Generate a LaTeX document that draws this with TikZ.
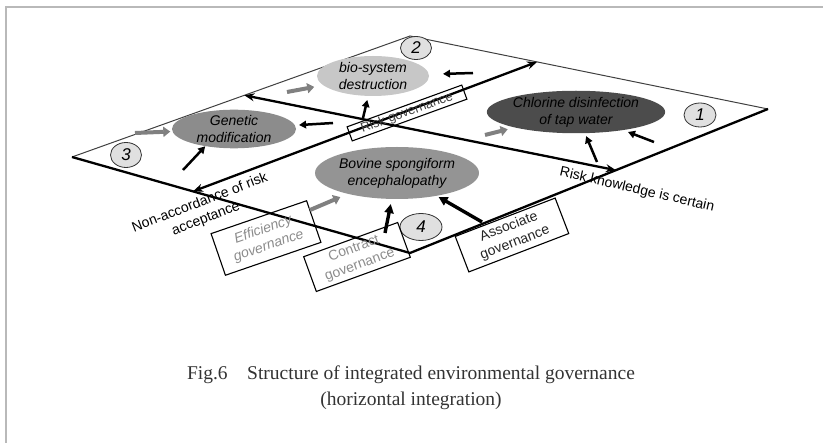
\documentclass[tikz,border=0pt]{standalone}
\usepackage{fontspec}
\setmainfont{Liberation Serif}
\setsansfont{Liberation Sans}
\usetikzlibrary{arrows.meta,calc,shapes.geometric}
\begin{document}
\begin{tikzpicture}[x=1pt,y=-1pt,
  thinedge/.style={line width=1pt, draw=black!75},
  thickedge/.style={line width=2.3pt, draw=black},
  axisline/.style={line width=2.3pt, {Stealth[length=10pt,width=8pt]}-{Stealth[length=10pt,width=8pt]}},
  blkarrow/.style={line width=2.5pt, -{Triangle[length=7pt,width=7.5pt]}},
  bigblk/.style={line width=3.4pt, -{Triangle[length=9pt,width=9pt]}},
  gryarrow/.style={line width=4pt, draw=black!50, -{Triangle[length=7pt,width=10pt]}},
  oval/.style={ellipse, inner sep=0pt, align=center, text=black,
    font=\sffamily\itshape\fontsize{14}{17}\selectfont},
  numcirc/.style={ellipse, draw=black!80, line width=0.8pt, fill=black!12, inner sep=0pt,
    font=\sffamily\itshape\fontsize{17}{17}\selectfont},
  govbox/.style={draw, line width=1.1pt, align=center, inner sep=0pt,
    font=\sffamily\fontsize{14}{17}\selectfont},
  lbl/.style={align=center, inner sep=0pt, font=\sffamily\fontsize{14}{17}\selectfont},
  capt/.style={inner sep=0pt, text=black!80, font=\fontsize{19.5}{22}\selectfont}
]
\useasboundingbox (0,0) rectangle (823,443);
% frame of the scanned page
\draw[gray!55, line width=1.5pt] (6,443) -- (6,7) -- (823,7);

% parallelogram
\coordinate (L) at (72,157);
\coordinate (T) at (410,36);
\coordinate (R) at (768,109);
\coordinate (B) at (410,253);
\draw[thinedge] (L) -- (T) -- (R);
\draw[thickedge, line join=round] (R) -- (B) -- (L);

% axes
\coordinate (a1) at ($(L)!0.358!(B)$);
\coordinate (a2) at ($(T)!0.355!(R)$);
\coordinate (b1) at ($(L)!0.51!(T)$);
\coordinate (b2) at ($(B)!0.575!(R)$);
\draw[axisline] (a1) -- (a2);
\draw[axisline] (b1) -- (b2);

% ellipses
\node[oval, fill=black!22, minimum width=112, minimum height=40] (bio) at (373,76) {bio-system\\destruction};
\node[oval, fill=black!45, minimum width=124, minimum height=38] (gen) at (234,129) {Genetic\\modification};
\node[oval, fill=black!70, minimum width=134, minimum height=41] (chl) at (576,112) {Chlorine disinfection\\of tap water};
\node[oval, fill=black!42, minimum width=142, minimum height=52] (bse) at (397,173) {Bovine spongiform\\encephalopathy};

% circled numbers
\node[numcirc, minimum width=32, minimum height=24] (n1) at (700,115) {1};
\node[numcirc, minimum width=31, minimum height=23] (n2) at (416,48) {2};
\node[numcirc, minimum width=31, minimum height=25] (n3) at (126,155) {3};
\node[numcirc, minimum width=42, minimum height=27] (n4) at (421,227) {4};

% governance boxes
\node[govbox, rotate=20, minimum width=122, minimum height=15, text=black!75,
  font=\sffamily\fontsize{13}{15}\selectfont] (riskgov) at (407,113) {Risk governance};
\node[govbox, rotate=19, minimum width=101, minimum height=44, text=black!45,
  font=\sffamily\itshape\fontsize{14}{17}\selectfont] (eff) at (266,238) {Efficiency\\governance};
\node[govbox, rotate=20, minimum width=100, minimum height=37, text=black!45] (con) at (357,257) {Contract\\governance};
\node[govbox, rotate=21, minimum width=107, minimum height=38, text=black!85] (ass) at (512,235) {Associate\\governance};

% axis labels
\node[lbl, rotate=21] (nonacc) at (203,211) {Non-accordance of risk\\acceptance};
\node[lbl, rotate=-13] (riskknow) at (637,190) {Risk knowledge is certain};

% arrow tails
\coordinate (t1) at (287,92);
\coordinate (t2) at (135,133);
\coordinate (t3) at (485,135);
\coordinate (t4) at (310,210);
\coordinate (t5) at (473,73);
\coordinate (t6) at (333,123);
\coordinate (t7) at (363,118);
\coordinate (t8) at (183,170);
\coordinate (t9) at (597,162);
\coordinate (t10) at (654,142);
\coordinate (t11) at (385,233);
\coordinate (t12) at (482,222);

% gray arrows
\draw[gryarrow, shorten >=9pt] (t1) -- (bio);
\draw[gryarrow, shorten >=2pt] (t2) -- (gen);
\draw[gryarrow, shorten >=7pt] (t3) -- (chl);
\draw[gryarrow, shorten >=8pt] (t4) -- (bse);

% black arrows
\draw[blkarrow, shorten >=14pt] (t5) -- (bio);
\draw[blkarrow, shorten >=4pt] (t6) -- (gen);
\draw[blkarrow, shorten >=4pt] (t7) -- (bio);
\draw[blkarrow] (t8) -- (gen.211);
\draw[blkarrow, shorten >=3pt] (t9) -- (chl);
\draw[blkarrow, shorten >=5pt] (t10) -- (chl);
\draw[bigblk, shorten >=5pt] (t11) -- (bse);
\draw[bigblk, shorten >=2pt] (t12) -- (bse);

% caption
\node[capt] (cap1) at (411,375) {Fig.6\quad Structure of integrated environmental governance};
\node[capt] (cap2) at (411,401) {(horizontal integration)};
\end{tikzpicture}
\end{document}
